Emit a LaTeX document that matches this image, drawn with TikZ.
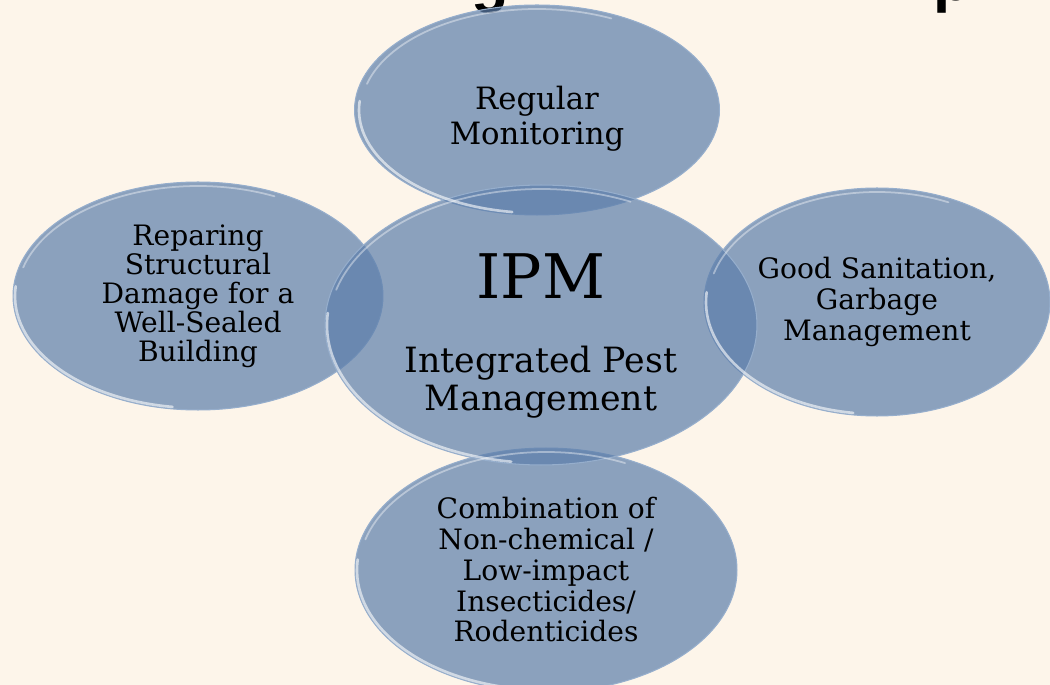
\documentclass[tikz,border=0pt]{standalone}
\usepackage{fontspec}
\setmainfont{DejaVu Serif}
\newfontfamily\headfont{Liberation Sans}
\usetikzlibrary{shapes.geometric}
\definecolor{paper}{RGB}{253,245,234}
\definecolor{bubblefill}{RGB}{92,126,171}
\definecolor{bubbleedge}{RGB}{150,174,204}

\begin{document}
\begin{tikzpicture}[x=0.02cm, y=-0.02cm,
  bubble/.style={ellipse, inner sep=0pt, fill=bubblefill, fill opacity=0.7,
    text opacity=1, draw=bubbleedge, line width=0.6pt, align=center,
    font=\fontsize{16}{19}\selectfont},
  rim/.style={white, opacity=0.6, line width=1.5pt, line cap=round},
  headtext/.style={anchor=base, font=\headfont\bfseries\fontsize{35}{40}\selectfont}]
\fill[paper] (0,0) rectangle (1050,685);
\useasboundingbox (0,0) rectangle (1050,685);
% heading, only its descenders reach the page
\node[headtext] (headg) at (490,1) {g};
\node[headtext] (headp) at (952,1) {p};
% the five bubbles
\node[bubble, minimum width=7.3cm, minimum height=4.2cm,
  font=\fontsize{17.5}{20}\selectfont] (monitor) at (537,110)
  {\rule{0pt}{0.8cm}Regular\\Monitoring};
\node[bubble, minimum width=7.4cm, minimum height=4.56cm,
  font=\fontsize{16}{16.5}\selectfont] (repair) at (198,296)
  {Reparing\\Structural\\Damage for a\\Well-Sealed\\Building};
\node[bubble, minimum width=6.92cm, minimum height=4.56cm,
  font=\fontsize{16}{17.5}\selectfont] (sanit) at (877,302)
  {Good Sanitation,\\Garbage\\Management};
\node[bubble, minimum width=7.64cm, minimum height=4.88cm,
  font=\fontsize{16}{17.5}\selectfont] (combo) at (546,570)
  {Combination of\\Non-chemical /\\Low-impact\\Insecticides/\\Rodenticides};
\node[bubble, minimum width=8.64cm, minimum height=5.6cm,
  font=\fontsize{19.8}{22}\selectfont] (ipm) at (541,325)
  {\rule{0pt}{1.34cm}{\fontsize{35}{40}\selectfont IPM}\\[20pt]Integrated Pest\\Management};
% light edges: strong low on the left, faint across the top
% (y points down, so the angles run clockwise)
\foreach \n/\rx/\ry in {monitor/180/105, repair/185/114, sanit/173/114, combo/191/122, ipm/216/140}{
  \draw[rim] (\n.center) ++({(\rx-2)*cos(-175)},{(\ry-2)*sin(-175)})
    arc[start angle=-175, end angle=-262, x radius=\rx-2, y radius=\ry-2];
  \draw[rim, opacity=0.4, line width=1pt] (\n.center) ++({(\rx-4)*cos(-65)},{(\ry-4)*sin(-65)})
    arc[start angle=-65, end angle=-165, x radius=\rx-4, y radius=\ry-4];
}
\end{tikzpicture}
\end{document}
